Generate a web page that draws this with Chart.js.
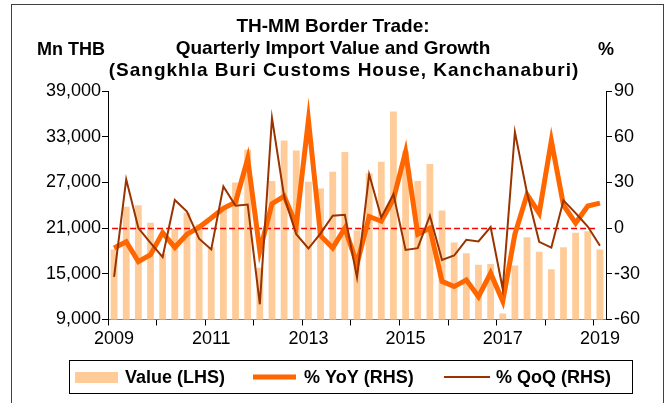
<!DOCTYPE html>
<html>
<head>
<meta charset="utf-8">
<script src="https://cdn.jsdelivr.net/npm/chart.js@4.4.1/dist/chart.umd.min.js"></script>
<style>
  html, body { margin: 0; padding: 0; background: #ffffff; }
  #wrap { width: 672px; height: 403px; position: relative; }
</style>
</head>
<body>
<div id="wrap"><canvas id="c" width="672" height="403"></canvas></div>
<script>
// Quarterly series, 2009 Q1 - 2019 Q1
const categories = [
  '2009Q1','2009Q2','2009Q3','2009Q4',
  '2010Q1','2010Q2','2010Q3','2010Q4',
  '2011Q1','2011Q2','2011Q3','2011Q4',
  '2012Q1','2012Q2','2012Q3','2012Q4',
  '2013Q1','2013Q2','2013Q3','2013Q4',
  '2014Q1','2014Q2','2014Q3','2014Q4',
  '2015Q1','2015Q2','2015Q3','2015Q4',
  '2016Q1','2016Q2','2016Q3','2016Q4',
  '2017Q1','2017Q2','2017Q3','2017Q4',
  '2018Q1','2018Q2','2018Q3','2018Q4',
  '2019Q1'
];
const yearLabels = ['2009', '2011', '2013', '2015', '2017', '2019'];

// Import value, Mn THB (left axis)
const importValue = [
  18200, 23800, 24000, 21700,
  17600, 20900, 23000, 21500,
  18500, 23600, 27000, 31300,
  15800, 27200, 32500, 31200,
  27100, 26200, 28400, 31000,
  20700, 28200, 29700, 36300,
  31100, 27200, 29400, 23300,
  19100, 17700, 16200, 16300,
  9800, 16100, 19800, 17900,
  15600, 18500, 20400, 20600,
  18200
];
// Year-on-year growth, % (right axis)
const yoyGrowth = [
  -13, -9, -22, -17.5,
  -3, -12.7, -4, 0.5,
  6.6, 13, 17, 45.5,
  -15, 16, 21, 2,
  71, -5, -13, 0,
  -23.5, 7.6, 4.5, 19,
  50, -4, 0, -35,
  -38.4, -34, -45, -29.6,
  -48, -4, 22, 9.8,
  57.4, 15, 3.3, 14.5,
  16.4
];
// Quarter-on-quarter growth, % (right axis)
const qoqGrowth = [
  -32, 32, 0, -9.7,
  -19, 18.5, 10.8, -7,
  -14, 27.4, 14.7, 15.5,
  -50, 72.4, 20.8, -4,
  -13.4, -3.5, 8.1, 8.7,
  -32.5, 35.3, 7, 22.3,
  -14.3, -13.2, 8.1, -20.9,
  -18, -7.7, -8.8, 0.7,
  -40, 63.1, 23, -9,
  -12.8, 18.2, 9.8, 1,
  -11.6
];

const leftTicks = [9000, 15000, 21000, 27000, 33000, 39000];
const rightTicks = [-60, -30, 0, 30, 60, 90];
const titleLines = [
  'TH-MM Border Trade:',
  'Quarterly Import Value and Growth',
  '(Sangkhla Buri Customs House, Kanchanaburi)'
];
const legendLabels = ['Value (LHS)', '% YoY (RHS)', '% QoQ (RHS)'];

const FONT = '"Liberation Sans", Arial, sans-serif';
const BAR_COLOR = '#FFCC99';
const YOY_COLOR = '#FF6600';
const QOQ_COLOR = '#993300';

const decor = {
  id: 'decor',
  afterDatasetDraw(chart, args) {
    if (args.index !== 0) return;
    // zero reference line on the growth axis, drawn over the bars
    const { ctx, scales } = chart;
    const y0 = Math.round(scales.y1.getPixelForValue(0)) + 0.5;
    const x0 = scales.x.getPixelForValue(0) - 2;
    const x1 = scales.x.getPixelForValue(categories.length - 1) - 3;
    ctx.save();
    ctx.strokeStyle = '#FF0000';
    ctx.lineWidth = 1.6;
    ctx.setLineDash([6, 3]);
    ctx.beginPath();
    ctx.moveTo(x0, y0);
    ctx.lineTo(x1, y0);
    ctx.stroke();
    ctx.restore();
  },
  afterDraw(chart) {
    const ctx = chart.ctx;
    ctx.save();
    // outer frame
    ctx.strokeStyle = '#404040';
    ctx.lineWidth = 1;
    ctx.strokeRect(11.5, 4.5, 652, 430);

    // title
    ctx.fillStyle = '#000';
    ctx.textBaseline = 'middle';
    ctx.textAlign = 'center';
    ctx.font = 'bold 19px ' + FONT;
    ctx.fillText(titleLines[0], 333, 27);
    ctx.fillText(titleLines[1], 333, 49);
    if ('letterSpacing' in ctx) ctx.letterSpacing = '1px';
    ctx.fillText(titleLines[2], 344, 71);
    if ('letterSpacing' in ctx) ctx.letterSpacing = '0px';

    // axis units
    ctx.font = 'bold 18px ' + FONT;
    ctx.textAlign = 'left';
    ctx.fillText('Mn THB', 37, 50);
    ctx.fillText('%', 598, 50);

    // legend box
    ctx.strokeStyle = '#000';
    ctx.strokeRect(69.5, 360.5, 563, 33);
    const ly = 377;
    ctx.fillStyle = BAR_COLOR;
    ctx.fillRect(75, ly - 5, 43, 11);
    ctx.lineCap = 'butt';
    ctx.strokeStyle = YOY_COLOR;
    ctx.lineWidth = 5;
    ctx.beginPath(); ctx.moveTo(253, ly); ctx.lineTo(296, ly); ctx.stroke();
    ctx.strokeStyle = QOQ_COLOR;
    ctx.lineWidth = 2;
    ctx.beginPath(); ctx.moveTo(444, ly); ctx.lineTo(490, ly); ctx.stroke();
    ctx.fillStyle = '#000';
    ctx.font = 'bold 18px ' + FONT;
    ctx.fillText(legendLabels[0], 125, ly + 1);
    ctx.fillText(legendLabels[1], 304, ly + 1);
    ctx.fillText(legendLabels[2], 496, ly + 1);
    ctx.restore();
  }
};

new Chart(document.getElementById('c'), {
  data: {
    labels: categories,
    datasets: [
      {
        type: 'bar',
        label: legendLabels[0],
        data: importValue,
        yAxisID: 'y',
        backgroundColor: BAR_COLOR,
        borderWidth: 0,
        barPercentage: 0.56,
        categoryPercentage: 1,
        order: 3
      },
      {
        type: 'line',
        label: legendLabels[1],
        data: yoyGrowth,
        yAxisID: 'y1',
        borderColor: YOY_COLOR,
        borderWidth: 5,
        pointRadius: 0,
        tension: 0,
        fill: false,
        order: 2
      },
      {
        type: 'line',
        label: legendLabels[2],
        data: qoqGrowth,
        yAxisID: 'y1',
        borderColor: QOQ_COLOR,
        borderWidth: 2,
        pointRadius: 0,
        tension: 0,
        fill: false,
        order: 1
      }
    ]
  },
  options: {
    responsive: false,
    devicePixelRatio: 1,
    animation: false,
    events: [],
    layout: { padding: { top: 91, left: 0, right: 0, bottom: 0 } },
    plugins: {
      legend: { display: false },
      title: { display: false },
      tooltip: { enabled: false }
    },
    scales: {
      x: {
        type: 'category',
        offset: true,
        grid: {
          offset: true,
          drawOnChartArea: false,
          tickLength: 6,
          tickColor: (c) => (c.index % 4 === 0 ? '#000' : 'rgba(0,0,0,0)')
        },
        border: { color: '#808080', width: 1 },
        ticks: {
          autoSkip: false,
          maxRotation: 0,
          minRotation: 0,
          padding: 3,
          color: '#000',
          font: { family: FONT, size: 18 },
          callback: (v, i) => {
            const lbl = categories[i];
            const yr = lbl.slice(0, 4);
            return lbl.endsWith('Q1') && yearLabels.includes(yr) ? yr : '';
          }
        },
        afterFit: (s) => { s.height = 83.5; }
      },
      y: {
        position: 'left',
        min: leftTicks[0],
        max: leftTicks[leftTicks.length - 1],
        afterBuildTicks: (s) => { s.ticks = leftTicks.map(v => ({ value: v })); },
        grid: { drawOnChartArea: false, tickLength: 6, tickColor: '#000' },
        border: { color: '#000', width: 1 },
        ticks: {
          padding: 1,
          color: '#000',
          font: { family: FONT, size: 18 },
          callback: (v) => Number(v).toLocaleString('en-US')
        },
        afterFit: (s) => { s.width = 108; }
      },
      y1: {
        position: 'right',
        min: rightTicks[0],
        max: rightTicks[rightTicks.length - 1],
        afterBuildTicks: (s) => { s.ticks = rightTicks.map(v => ({ value: v })); },
        grid: { drawOnChartArea: false, tickLength: 6, tickColor: '#000' },
        border: { color: '#000', width: 1 },
        ticks: {
          padding: 2,
          color: '#000',
          font: { family: FONT, size: 18 }
        },
        afterFit: (s) => { s.width = 66; }
      }
    }
  },
  plugins: [decor]
});
</script>
</body>
</html>
